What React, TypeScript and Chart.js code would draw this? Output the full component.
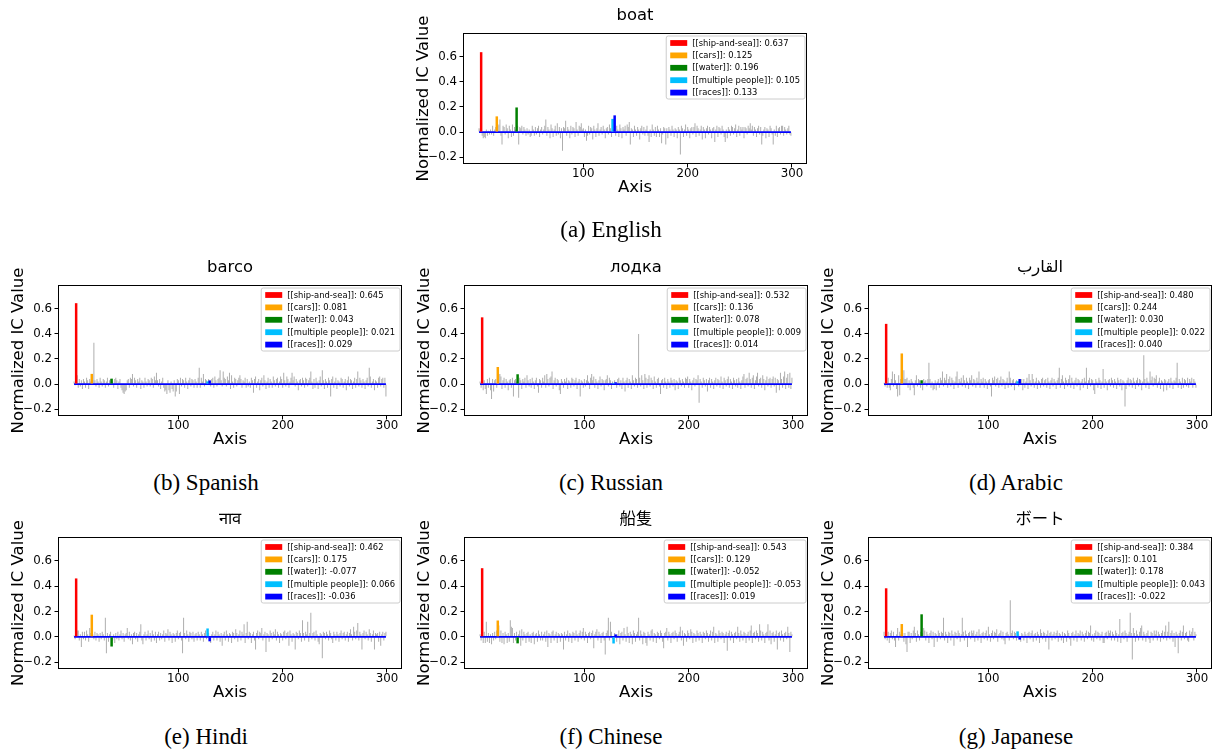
import React, { useEffect, useRef } from "react";
import { Chart, registerables } from "chart.js";

Chart.register(...registerables);

// ---------------- data ----------------
const conceptLabels = ["[[ship-and-sea]]", "[[cars]]", "[[water]]", "[[multiple people]]", "[[races]]"];
const conceptColors = ["#ff0000", "#ffa500", "#008000", "#00bfff", "#0000ff"];
const conceptDims = [2, 17, 36, 128, 130];
const xTickValues = [100, 200, 300];
const yTickValues = [-0.2, 0, 0.2, 0.4, 0.6];
const xRange = [-15.4, 314.4];
const yRange = [-0.255, 0.79];

const titles = ["boat", "barco", "лодка", "القارب", "नाव", "船隻", "ボート"];
const captions = ["(a) English", "(b) Spanish", "(c) Russian", "(d) Arabic", "(e) Hindi", "(f) Chinese", "(g) Japanese"];

const enConcept = [0.637, 0.125, 0.196, 0.105, 0.133];
const esConcept = [0.645, 0.081, 0.043, 0.021, 0.029];
const ruConcept = [0.532, 0.136, 0.078, 0.009, 0.014];
const arConcept = [0.48, 0.244, 0.03, 0.022, 0.04];
const hiConcept = [0.462, 0.175, -0.077, 0.066, -0.036];
const zhConcept = [0.543, 0.129, -0.052, -0.053, 0.019];
const jaConcept = [0.384, 0.101, 0.178, 0.043, -0.022];

const enOther = [
  .03,.02,0,-.03,-.05,-.04,-.05,.02,-.03,.01,-.02,.02,-.02,.05,-.03,.02,.04,0,.05,.06,
  .1,-.03,-.1,.05,.04,-.02,.06,.03,-.05,.05,.02,-.04,.06,-.03,.04,.02,0,.05,-.1,.04,
  .03,.05,-.02,.04,.02,-.03,.03,-.02,.02,-.04,-.03,.05,.02,-.03,.04,-.02,.03,.05,-.04,.02,
  .04,-.02,.02,.05,.1,-.03,.04,.02,-.05,.06,.03,-.04,.02,.05,-.03,.07,-.02,.04,-.05,.03,
  -.15,.04,.03,.09,-.03,.04,.02,-.05,.05,-.02,.04,.03,-.04,.08,.02,-.03,.05,.04,.07,.02,
  .03,-.04,.02,-.07,-.03,.05,-.02,.04,.03,-.06,.05,.02,-.04,.03,.07,-.03,.02,.04,-.02,.05,
  .02,-.05,.03,.04,-.02,.06,.03,-.04,0,.02,0,-.03,.05,.02,-.04,.06,.03,-.05,.04,.02,
  .05,-.03,.06,.04,.08,-.1,.03,.02,-.04,.05,.02,-.03,.04,.02,-.06,.03,.05,-.02,.04,-.03,
  .02,.05,-.03,-.08,.02,-.04,.06,.02,-.03,.04,-.04,.05,.02,-.04,.03,-.09,-.02,.04,.03,-.1,
  .03,-.05,.04,.02,-.03,.05,.02,-.04,.03,.02,-.05,.04,.02,-.18,.05,.03,-.04,.02,.06,-.03,
  .04,.02,-.05,.03,.04,-.02,.04,.07,-.04,.05,.03,-.03,.02,.05,-.06,.04,.02,-.05,.03,.05,
  -.02,.04,.02,-.05,.03,.04,-.08,.02,.05,-.04,.04,.03,-.02,.05,.02,-.04,-.08,.02,-.05,.04,
  .02,-.03,.05,.04,-.02,.03,.06,-.04,.02,.05,-.03,.04,.02,.04,-.05,.04,.03,-.02,.05,.03,
  .07,.02,.05,-.03,.04,.02,-.04,.03,.05,-.02,.04,-.1,-.03,.02,.04,-.05,.03,.02,-.04,.05,
  .03,-.02,-.1,.02,-.03,.05,-.04,.03,.04,-.02,.05,.05,-.03,.04,.02,-.02,.03,.05,-.02,-.03,
];

const esOther = [
  .02,-.01,0,.07,-.03,.04,-.02,.03,-.04,.04,.02,-.03,.05,.03,-.04,.04,.02,0,.03,.33,
  .03,-.02,.04,.02,-.03,.05,.02,-.02,.04,.03,-.03,.02,.05,-.02,.03,.04,0,.02,-.03,.04,
  .05,.03,-.04,.02,.04,-.03,-.05,-.07,-.08,-.06,-.05,.03,.04,-.03,.05,.04,.08,-.02,.05,.03,
  -.03,.04,.02,.05,-.04,.03,.02,-.03,.05,.02,-.02,.04,.03,-.02,.05,.04,-.03,.06,.03,.09,
  .03,-.02,.04,-.04,.02,.05,-.03,-.06,-.05,-.08,.03,-.05,-.07,.02,-.04,-.06,.03,-.1,-.06,.04,
  .03,-.08,.05,-.02,.04,.03,-.03,.05,.02,-.04,.03,.05,-.02,.04,.03,-.03,.04,.02,-.03,.05,
  .13,-.03,.05,.02,.08,-.02,.04,.03,0,.04,0,-.02,.04,.05,-.03,.06,.03,-.02,.04,.05,
  .11,.03,-.02,.1,.05,.04,-.02,.06,.03,.09,-.04,.07,.02,-.03,.05,.04,-.02,.03,.05,.07,
  .04,-.03,.03,.02,.05,-.03,.04,-.02,.02,-.03,.05,.03,-.07,.04,.06,-.03,.02,.04,-.05,.03,
  .05,-.02,.07,.03,-.04,.02,.05,-.03,.04,.02,-.03,.06,.03,-.02,.04,.05,-.03,.02,.06,.04,
  -.03,.09,.03,-.02,.06,.04,-.03,.02,.05,.09,.03,.06,-.02,.04,.02,-.05,.03,.04,-.02,.05,
  .03,-.03,.05,.04,-.02,.03,.05,.1,.02,-.04,.04,-.03,.05,.02,-.04,.03,.06,-.02,.11,.03,
  -.04,.04,.02,-.03,.05,.03,-.1,.04,.06,-.03,.02,.05,-.04,.03,.02,-.02,.05,.04,-.03,.02,
  .04,-.05,.03,.06,-.02,.04,.03,-.04,.02,.05,-.03,.04,.1,-.02,.05,.03,-.03,.04,.02,-.04,
  .03,.05,-.02,.13,.06,-.03,.02,.04,-.05,.03,.02,-.03,.05,.06,-.02,.04,.05,-.03,.05,-.1,
];

const ruOther = [
  .02,-.03,0,-.05,.03,-.04,-.08,.04,-.03,.05,-.05,-.12,.04,-.06,.03,.04,-.03,0,.08,.08,
  .06,-.04,.03,.05,-.03,.04,.02,-.05,.03,.04,-.03,.05,-.1,.03,.04,.02,0,-.11,.05,.03,
  -.04,.04,.02,.05,-.03,.07,.03,-.02,.04,-.03,.05,.02,-.04,.03,.05,-.02,-.07,.04,.03,-.03,
  .05,.02,.07,-.03,.08,.04,-.02,.05,.06,.1,-.04,.03,.05,-.02,.04,.03,-.05,-.08,.04,.02,
  -.03,.04,.02,.05,-.04,.03,.02,-.03,.05,.04,-.02,.03,.05,-.04,.02,.04,-.1,.03,.02,-.03,
  .04,-.02,.03,.07,.02,-.04,.05,.08,.03,.06,-.03,.04,.02,-.04,.03,.06,-.02,.04,.03,-.05,
  .03,.04,.07,-.02,.05,.03,-.04,.02,0,.03,0,-.03,.04,.05,-.02,.03,-.04,.05,.02,-.06,
  .03,.05,-.03,.04,.02,-.04,.07,.03,-.02,.05,.04,-.03,.4,.05,-.02,.07,.03,-.04,.08,.05,
  -.03,.04,.07,-.02,.05,.03,-.04,.06,.02,-.03,.04,.05,-.02,-.08,.03,.04,-.03,.05,.02,-.04,
  .04,.02,-.03,.05,.03,-.02,.04,-.05,.03,.02,-.04,.05,.03,-.02,.04,.02,-.03,.05,.04,.06,
  -.03,.04,.02,-.05,.03,.05,-.02,.04,.03,.07,-.15,.04,.02,-.03,.05,.03,-.02,.04,-.06,.03,
  .05,-.03,.04,.02,-.04,.03,.05,-.02,.04,.03,-.03,.06,.02,-.04,.05,.03,-.02,.04,.06,-.03,
  .04,.02,-.04,.05,.03,-.02,.04,-.03,.05,.02,-.04,.03,.06,.08,-.03,.04,.05,-.02,.09,.04,
  -.03,.05,.07,-.04,.03,.06,.09,-.02,.04,.05,-.03,.07,.04,-.05,.03,.06,-.02,.04,.05,-.03,
  .04,.06,-.02,.05,-.07,.04,.03,-.05,.09,.04,-.03,.06,.1,-.04,.05,.08,-.03,.09,-.04,.05,
];

const arOther = [
  .01,-.02,0,-.03,.05,-.03,-.05,.04,.1,-.02,.08,.03,-.04,-.1,.07,-.09,.04,0,.05,.11,
  .04,.04,.05,-.03,.03,-.05,.04,.02,-.03,-.09,.03,.07,-.02,.04,.03,-.03,0,-.05,.04,.02,
  .03,-.02,.04,.17,.04,-.03,.02,-.05,-.04,.03,-.05,.02,.04,-.03,.05,.03,.1,-.02,.05,.03,
  .08,-.03,.04,.06,-.02,.05,.03,-.04,.02,.06,.1,-.03,.04,.02,.05,-.02,.07,.03,-.03,.05,
  .02,-.04,.05,.03,.07,-.02,.04,.03,-.03,.05,.02,.1,-.03,.04,.02,.05,-.03,.04,.02,-.04,
  .03,.04,-.02,-.1,.05,.03,.06,-.02,.04,.05,-.03,.03,.06,-.02,.04,.03,-.04,.02,.05,-.03,
  .1,.05,-.02,.03,.04,-.05,.02,.03,0,-.02,0,.03,.04,-.05,.04,-.03,.02,.05,-.04,.08,
  .03,-.02,.08,.04,-.03,.02,.05,-.04,.03,.02,-.03,.04,.05,-.02,.03,.04,-.03,.05,.02,-.04,
  .03,.05,-.02,.04,.02,-.04,.03,.05,.13,-.03,.04,.07,.02,-.04,.05,.03,-.02,.04,.07,-.03,
  .05,.02,-.04,.03,.05,-.02,.04,.03,-.05,.02,.04,-.03,.05,.02,.13,-.04,.03,.05,-.02,.04,
  .03,-.05,-.08,.04,.02,-.03,.05,.03,-.04,.02,.12,-.03,.04,.02,-.05,.03,.04,-.02,.05,.03,
  -.03,.04,.02,-.04,.05,.03,-.02,.04,-.05,.03,.02,-.18,-.04,.03,.05,-.02,.04,.03,-.03,.05,
  .02,-.04,.03,.05,-.02,.04,.03,-.05,.02,.23,.04,-.03,.05,.02,-.04,.1,.03,.06,-.02,.05,
  .04,.07,-.03,.02,.05,-.04,.03,.02,-.06,.04,.03,-.05,.02,.04,-.03,.05,.02,-.04,.03,.02,
  .05,.17,-.03,.04,.02,-.04,.05,-.03,.04,.03,-.02,.05,-.03,.04,.02,.05,-.03,.04,.02,-.03,
];

const hiOther = [
  .01,-.02,0,.05,.05,-.03,.02,-.08,.04,-.02,.04,-.03,.05,.02,-.04,.07,.03,0,.02,-.02,
  .04,-.03,.03,.02,-.04,.03,-.02,.04,.02,-.03,.15,-.13,.03,-.04,.02,.04,0,-.03,.02,-.05,
  .03,-.02,.04,-.03,.02,.05,-.02,.03,-.04,.02,.03,.07,-.02,.04,-.03,.02,-.06,.03,.04,-.02,
  .03,-.04,.02,.04,.1,-.03,-.06,.02,.04,-.03,.02,.05,-.02,.03,-.04,.05,.02,-.03,.04,-.05,
  .02,.04,-.03,.03,-.02,.02,.05,-.04,.03,.02,.06,-.03,.04,.02,-.05,.03,.02,-.04,.03,.05,
  -.02,.03,.04,-.03,-.13,.15,.03,-.02,.05,.02,-.04,.04,.03,-.02,.04,-.04,.02,.03,-.03,.04,
  .02,-.03,.04,.02,-.04,.03,.05,-.02,0,.03,0,-.05,.02,.04,-.03,.02,.05,-.03,.04,.02,
  -.04,.03,-.07,.02,.04,-.03,.05,.02,-.04,.03,.02,-.05,.04,.03,-.02,.06,.03,-.04,.02,.05,
  -.03,.04,.02,.1,-.05,.03,.12,-.02,.04,.03,-.05,.02,.04,-.03,-.1,.03,.05,-.02,.04,.03,
  .07,-.03,.02,.04,-.12,.03,.02,-.04,.05,.03,-.02,.04,.02,.06,-.03,.04,.02,-.05,.03,.02,
  -.03,.04,.05,-.02,.03,.04,-.07,.05,.02,-.04,.03,.02,-.1,.04,.03,-.02,.05,.03,-.04,.13,
  .03,-.03,.04,.02,.12,-.04,.03,.19,-.02,.03,.04,-.03,.05,.02,-.04,-.06,.03,.02,-.17,.04,
  .03,-.02,.04,.02,-.03,.05,.03,-.02,-.05,.04,.02,-.03,.04,.02,-.04,.03,.05,-.02,.03,.04,
  -.03,.02,.04,-.04,.03,.06,.02,-.03,.08,.04,-.02,.05,.11,-.03,.04,.02,-.1,.03,.05,-.02,
  .04,.02,-.03,.06,.03,-.04,.02,.05,-.1,.03,.02,.03,-.04,.04,-.07,.02,.04,-.03,.03,.04,
];

const zhOther = [
  .02,-.03,0,-.05,.04,-.05,.12,-.04,.03,-.05,.02,-.06,.03,-.03,.04,-.02,.05,0,.09,-.04,
  .05,-.05,.03,-.06,.04,.02,-.05,.03,-.04,.13,.08,.07,-.05,.03,-.03,.04,0,.02,.05,-.07,
  .06,-.03,.04,.02,-.05,.03,.04,-.04,.02,-.05,.03,.04,-.06,.02,.03,-.04,.05,.02,-.03,.04,
  -.03,.02,.04,-.04,.05,-.08,.03,.02,-.05,.04,.05,-.03,.02,.04,-.05,.03,.02,-.04,.03,.02,
  -.1,.04,-.03,.02,.05,-.04,.03,.02,-.05,.04,.03,-.03,.05,.02,-.04,.03,.05,-.02,.04,.07,
  -.03,.04,.02,-.05,.03,.04,-.02,.03,.05,-.09,.02,.04,.06,-.03,.04,.02,-.05,.03,.04,-.03,
  -.14,.03,.05,.15,-.03,.12,.04,-.02,0,.03,0,-.04,.02,.05,-.06,.03,.04,-.03,.07,.02,
  -.04,.08,.03,-.05,.04,.02,-.06,.05,.03,-.04,.02,.04,.15,-.03,.05,.02,-.06,.04,.03,-.05,
  -.07,.04,.02,-.03,.05,.06,-.04,.03,.02,-.05,.04,.03,-.02,.05,.03,-.04,-.09,.03,.04,.07,
  -.03,.04,.02,-.05,.03,.04,-.02,.05,.03,-.04,.02,.04,.08,-.03,.05,-.07,.03,.02,-.04,.05,
  .03,-.02,.06,.04,-.05,.03,.02,-.04,.05,.03,-.03,.04,.02,-.05,.04,.03,-.02,.05,.03,-.04,
  .02,.05,-.03,.04,.08,-.05,.03,.02,-.04,.05,.03,-.02,.04,.03,-.05,.02,.04,-.11,.03,.05,
  -.03,.04,.02,-.05,.03,.04,-.02,.08,.03,-.04,.05,.02,-.03,.04,.03,-.05,.02,.04,-.03,.05,
  .09,-.05,.03,.04,-.02,.05,.03,-.04,.1,.05,-.03,.04,.02,-.05,.03,.04,.1,-.03,.05,-.06,
  .03,.04,-.04,.02,.05,-.1,.03,.04,-.03,.05,.02,-.04,.03,.04,-.02,.08,.03,-.12,.04,.02,
];

const jaOther = [
  .04,-.02,0,-.03,.04,-.05,.03,.05,-.02,.04,-.03,-.08,.02,.07,-.03,.04,.02,0,.03,-.04,
  .03,-.06,-.12,.04,.04,-.05,.03,-.02,.05,.08,.03,-.04,.05,.02,-.03,.04,0,.03,.07,.05,
  -.03,.04,.02,-.05,.03,.05,-.02,.04,-.08,.03,.02,-.04,.05,.03,-.02,.04,.03,.15,-.03,.04,
  .02,-.05,.04,.03,-.03,.05,.02,-.07,.04,.03,-.02,.05,.03,-.04,.02,.15,.04,-.03,.05,.02,
  -.08,.03,.04,-.02,.05,.03,.05,-.04,.02,.04,-.03,.06,.02,-.05,.03,.04,-.02,.03,.05,-.03,
  .08,.02,-.04,.03,.05,-.02,.04,.03,.06,-.04,.02,.03,.05,-.02,.04,-.03,-.06,.03,.04,.02,
  -.03,.29,.03,.05,-.02,.04,.03,-.03,0,.02,0,-.04,.03,.02,-.03,.04,.02,-.05,.03,.04,
  -.02,.03,.05,-.04,.02,.03,-.03,.04,.02,-.05,.06,.03,-.02,.04,.03,-.04,.02,.05,-.1,.03,
  .04,-.03,.02,.04,-.02,.03,.05,-.04,.03,.02,-.03,.04,-.05,.03,.02,-.04,.05,.03,-.02,-.07,
  .03,.04,-.03,.02,.05,-.04,.03,.02,.05,-.03,.04,.02,-.04,.03,.05,-.02,.04,.03,.09,-.03,
  .02,-.04,.03,.05,-.02,.04,.03,-.03,.02,.04,-.05,-.05,.03,.04,-.02,.05,.03,.05,-.03,.04,
  .02,-.03,.05,.03,-.04,.02,.14,-.05,.03,.04,-.02,.05,.03,-.04,.02,.04,.19,.03,-.18,.07,
  .03,-.04,.05,.02,-.03,.04,.07,.09,-.03,.04,.02,-.04,.03,.05,-.02,-.05,.04,.03,-.03,.05,
  .02,.05,-.03,.04,.02,-.04,.03,.05,-.02,.04,.09,-.03,.04,.12,-.02,.03,.05,-.04,.03,-.08,
  .04,.02,-.13,.03,.05,-.03,.04,.09,-.02,.03,.04,-.03,-.04,.05,.02,.04,.07,-.03,.04,.02,
];

// ---------------- layout (page pixels) ----------------
type PanelSpec = {
  title: string;
  caption: string;
  concept: number[];
  other: number[];
  frame: number[]; // left, top, right, bottom of plot frame
  cap: number[]; // caption centre
};

const panels: PanelSpec[] = [
  { title: titles[0], caption: captions[0], concept: enConcept, other: enOther, frame: [463, 33, 807, 164], cap: [611, 230] },
  { title: titles[1], caption: captions[1], concept: esConcept, other: esOther, frame: [58, 285, 402, 416], cap: [206, 483] },
  { title: titles[2], caption: captions[2], concept: ruConcept, other: ruOther, frame: [464, 285, 808, 416], cap: [611, 483] },
  { title: titles[3], caption: captions[3], concept: arConcept, other: arOther, frame: [868, 285, 1212, 416], cap: [1016, 483] },
  { title: titles[4], caption: captions[4], concept: hiConcept, other: hiOther, frame: [58, 537, 402, 669], cap: [206, 737] },
  { title: titles[5], caption: captions[5], concept: zhConcept, other: zhOther, frame: [464, 537, 808, 669], cap: [611, 737] },
  { title: titles[6], caption: captions[6], concept: jaConcept, other: jaOther, frame: [868, 537, 1212, 669], cap: [1016, 737] },
];

const SANS = "'DejaVu Sans', 'Noto Sans CJK JP', 'Noto Sans CJK TC', sans-serif";
const PAD_TOP = 33;
const Y_AXIS_W = 60;
const X_AXIS_H = 40;
const PAD_RIGHT = 3;

const fmtY = (v: number) => (v < 0 ? "\u2212" : "") + Math.abs(v).toFixed(1);

function Panel({ p }: { p: PanelSpec }) {
  const ref = useRef<HTMLCanvasElement | null>(null);
  const [L, T, R, B] = p.frame;
  const W = R - L + Y_AXIS_W + PAD_RIGHT;
  const H = B - T + PAD_TOP + X_AXIS_H;

  useEffect(() => {
    const canvas = ref.current;
    if (!canvas) return;

    const deco = {
      id: "deco",
      afterDraw(chart: any) {
        const ctx = chart.ctx as CanvasRenderingContext2D;
        const ca = chart.chartArea;
        ctx.save();
        // frame
        ctx.strokeStyle = "#000";
        ctx.lineWidth = 1;
        ctx.strokeRect(ca.left + 0.5, ca.top + 0.5, ca.right - ca.left - 1, ca.bottom - ca.top - 1);
        // title
        ctx.fillStyle = "#000";
        ctx.textAlign = "center";
        ctx.textBaseline = "middle";
        ctx.font = `16.4px ${SANS}`;
        ctx.fillText(p.title, (ca.left + ca.right) / 2, ca.top - 17);
        // x label
        ctx.font = `16.5px ${SANS}`;
        ctx.fillText("Axis", (ca.left + ca.right) / 2, ca.bottom + 23.5);
        // y label
        ctx.save();
        ctx.translate(ca.left - 39.5, (ca.top + ca.bottom) / 2);
        ctx.rotate(-Math.PI / 2);
        ctx.fillText("Normalized IC Value", 0, 0);
        ctx.restore();
        // legend
        const fs = 8.4;
        ctx.font = `${fs}px ${SANS}`;
        const texts = conceptLabels.map((l, i) => `${l}: ${p.concept[i].toFixed(3)}`);
        const tw = Math.max(...texts.map((t) => ctx.measureText(t).width));
        const bw = 4 + 17 + 5 + tw + 5;
        const bh = 63;
        const bx = ca.right - 2.5 - bw;
        const by = ca.top + 2.5;
        ctx.beginPath();
        if ((ctx as any).roundRect) (ctx as any).roundRect(bx + 0.5, by + 0.5, bw, bh, 2);
        else ctx.rect(bx + 0.5, by + 0.5, bw, bh);
        ctx.fillStyle = "rgba(255,255,255,0.8)";
        ctx.fill();
        ctx.strokeStyle = "#cccccc";
        ctx.lineWidth = 1;
        ctx.stroke();
        ctx.textAlign = "left";
        ctx.textBaseline = "middle";
        texts.forEach((t, i) => {
          const y = by + 7.5 + i * 12.4;
          ctx.fillStyle = conceptColors[i];
          ctx.fillRect(bx + 4.5, y - 2.9, 17, 5.8);
          ctx.fillStyle = "#000";
          ctx.fillText(t, bx + 26.5, y + 0.5);
        });
        ctx.restore();
      },
    };

    const greyData = p.other.map((v, i) => ({ x: i, y: v }));
    const conceptData = conceptDims.map((d, i) => ({ x: d, y: p.concept[i] }));
    const baseData = [
      { x: 0, y: 0 },
      { x: p.other.length - 1, y: 0 },
    ];

    const tickFont = { family: SANS, size: 11.8, lineHeight: 1 };
    const chart = new Chart(canvas, {
      type: "bar",
      data: {
        datasets: [
          {
            type: "bar",
            data: greyData as any,
            backgroundColor: "#aeaeae",
            barThickness: 1,
            grouped: false,
            borderWidth: 0,
            inflateAmount: 0,
            order: 3,
          } as any,
          {
            type: "line",
            data: baseData as any,
            borderColor: "#0000ff",
            borderWidth: 1.8,
            pointRadius: 0,
            fill: false,
            order: 2,
          } as any,
          {
            type: "bar",
            data: conceptData as any,
            backgroundColor: conceptColors,
            barThickness: 2.5,
            grouped: false,
            borderWidth: 0,
            inflateAmount: 0,
            order: 1,
          } as any,
        ],
      },
      options: {
        responsive: false,
        animation: false,
        devicePixelRatio: 1,
        events: [],
        layout: { padding: { top: PAD_TOP, right: PAD_RIGHT, left: 0, bottom: 0 } },
        plugins: { legend: { display: false }, tooltip: { enabled: false }, title: { display: false } },
        scales: {
          x: {
            type: "linear",
            min: xRange[0],
            max: xRange[1],
            offset: false,
            afterBuildTicks: (s: any) => {
              s.ticks = xTickValues.map((v) => ({ value: v }));
            },
            afterFit: (s: any) => {
              s.height = X_AXIS_H;
            },
            ticks: {
              font: tickFont,
              color: "#000",
              padding: 1,
              maxRotation: 0,
              autoSkip: false,
              callback: (v: any) => String(v),
            },
            grid: {
              display: true,
              offset: false,
              drawOnChartArea: false,
              drawTicks: true,
              tickLength: 3.5,
              color: "#000",
              lineWidth: 1,
            },
            border: { display: false },
          },
          y: {
            type: "linear",
            min: yRange[0],
            max: yRange[1],
            afterBuildTicks: (s: any) => {
              s.ticks = yTickValues.map((v) => ({ value: v }));
            },
            afterFit: (s: any) => {
              s.width = Y_AXIS_W;
            },
            ticks: {
              font: tickFont,
              color: "#000",
              padding: 2.5,
              callback: (v: any) => fmtY(Number(v)),
            },
            grid: {
              display: true,
              offset: false,
              drawOnChartArea: false,
              drawTicks: true,
              tickLength: 3.5,
              color: "#000",
              lineWidth: 1,
            },
            border: { display: false },
          },
        },
      } as any,
      plugins: [deco],
    });
    return () => chart.destroy();
  }, [p]);

  return (
    <canvas
      ref={ref}
      width={W}
      height={H}
      style={{ position: "absolute", left: L - Y_AXIS_W, top: T - PAD_TOP, width: W, height: H }}
    />
  );
}

export default function App() {
  useEffect(() => {
    document.body.style.overflow = "hidden";
    document.body.style.background = "#ffffff";
  }, []);
  return (
    <div style={{ position: "absolute", left: 0, top: 0, width: 1215, height: 753, background: "#fff", overflow: "hidden" }}>
      {panels.map((p, i) => (
        <Panel key={i} p={p} />
      ))}
      {panels.map((p, i) => (
        <div
          key={"c" + i}
          style={{
            position: "absolute",
            left: p.cap[0] - 150,
            top: p.cap[1] - 13,
            width: 300,
            height: 26,
            lineHeight: "26px",
            textAlign: "center",
            fontFamily: "'Liberation Serif', 'Times New Roman', serif",
            fontSize: 23,
            color: "#000",
            whiteSpace: "nowrap",
          }}
        >
          {p.caption}
        </div>
      ))}
    </div>
  );
}
